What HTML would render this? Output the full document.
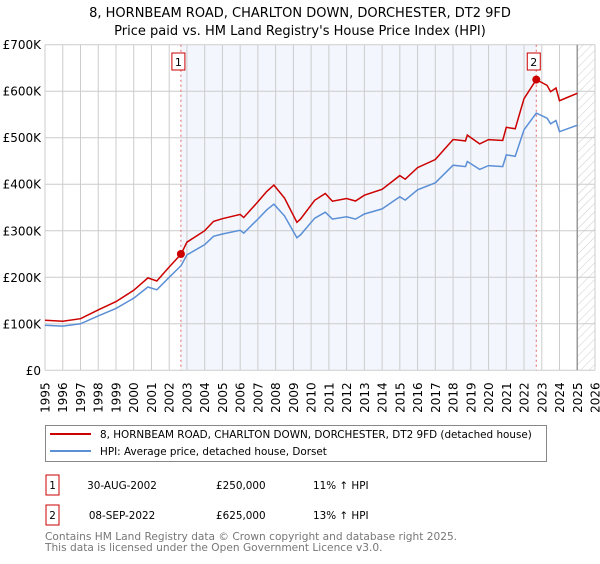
<!DOCTYPE html>
<html><head><meta charset="utf-8"><style>
body{margin:0;background:#fff;font-family:"DejaVu Sans","Liberation Sans",sans-serif;}
svg text{font-family:"DejaVu Sans","Liberation Sans",sans-serif;}
</style></head><body>
<svg width="600" height="560" viewBox="0 0 600 560" xmlns="http://www.w3.org/2000/svg">
<defs><pattern id="hatch" width="6" height="6" patternUnits="userSpaceOnUse" patternTransform="rotate(45)"><line x1="0" y1="0" x2="0" y2="6" stroke="#ccc" stroke-width="1"/></pattern></defs>
<text x="300" y="17" text-anchor="middle" font-size="13">8, HORNBEAM ROAD, CHARLTON DOWN, DORCHESTER, DT2 9FD</text>
<text x="300" y="35" text-anchor="middle" font-size="13">Price paid vs. HM Land Registry's House Price Index (HPI)</text>
<g id="plot"></g>
<g>
<rect x="45.5" y="425.5" width="501" height="36" fill="#fff" stroke="#888"/>
<line x1="50" y1="434" x2="91" y2="434" stroke="#cc0000" stroke-width="2"/>
<text x="100" y="438" font-size="10.4">8, HORNBEAM ROAD, CHARLTON DOWN, DORCHESTER, DT2 9FD (detached house)</text>
<line x1="50" y1="451" x2="91" y2="451" stroke="#5b8fd6" stroke-width="2"/>
<text x="100" y="455" font-size="10.4">HPI: Average price, detached house, Dorset</text>
</g>
<g font-size="10.4">
<rect x="46" y="475" width="13" height="20" fill="#fff" stroke="#cc0000"/><text x="52.5" y="489" text-anchor="middle">1</text>
<text x="122" y="489" text-anchor="middle">30-AUG-2002</text><text x="216" y="489">£250,000</text><text x="313" y="489">11% ↑ HPI</text>
<rect x="46" y="505" width="13" height="20" fill="#fff" stroke="#cc0000"/><text x="52.5" y="519" text-anchor="middle">2</text>
<text x="122" y="519" text-anchor="middle">08-SEP-2022</text><text x="216" y="519">£625,000</text><text x="313" y="519">13% ↑ HPI</text>
</g>
<text x="45" y="540" font-size="10.6" fill="#777">Contains HM Land Registry data © Crown copyright and database right 2025.</text>
<text x="45" y="551" font-size="10.6" fill="#777">This data is licensed under the Open Government Licence v3.0.</text>
</svg>
<script>
const hpiYears=[1995,1996,1997,1998,1999,2000,2000.8,2001.3,2002,2002.67,2003,2004,2004.5,2005,2006,2006.2,2007,2007.5,2007.9,2008.5,2009.2,2009.4,2010.2,2010.8,2011.2,2012,2012.5,2013,2014,2015,2015.3,2016,2017,2018,2018.7,2018.8,2019.5,2020,2020.8,2021,2021.5,2022,2022.69,2023.3,2023.5,2023.8,2024,2024.5,2025];
const hpiValues=[97000,95000,100000,117000,133000,155000,179000,173000,200000,225000,248000,270000,288000,293000,301000,295000,325000,345000,357000,332000,285000,291000,327000,340000,325000,330000,325000,336000,347000,373000,366000,388000,403000,441000,438000,449000,432000,440000,438000,463000,460000,517000,553000,542000,530000,537000,513000,520000,527000];
const saleYears=[2002.66,2022.69];
const salePrices=[250000,625000];
const saleRatios=[1.11,1.13];
const yTicks=[0,100000,200000,300000,400000,500000,600000,700000];
const yTickLabels=["£0","£100K","£200K","£300K","£400K","£500K","£600K","£700K"];
const xTicks=[1995,1996,1997,1998,1999,2000,2001,2002,2003,2004,2005,2006,2007,2008,2009,2010,2011,2012,2013,2014,2015,2016,2017,2018,2019,2020,2021,2022,2023,2024,2025,2026];
const X0=45,X1=595,Y0=370.3,Y1=44.7,xMin=1995,xMax=2026,yMax=700000;
const sx=v=>X0+(v-xMin)/(xMax-xMin)*(X1-X0);
const sy=v=>Y0-(v/yMax)*(Y0-Y1);
const NS="http://www.w3.org/2000/svg";
const g=document.getElementById('plot');
function mk(t,a){const e=document.createElementNS(NS,t);for(const k in a)e.setAttribute(k,a[k]);g.appendChild(e);return e;}
let e;
e=mk('rect',{x:X0,y:Y1,width:X1-X0,height:Y0-Y1,fill:'#fff'});


e=mk('rect',{x:sx(saleYears[0]),y:Y1,width:sx(saleYears[1])-sx(saleYears[0]),height:Y0-Y1,fill:'#f3f6fd'});


e=mk('rect',{x:sx(2025),y:Y1,width:X1-sx(2025),height:Y0-Y1,fill:'url(#hatch)'});


xTicks.forEach(t=>{
 e=mk('line',{x1:sx(t),x2:sx(t),y1:Y1,y2:Y0,stroke:'#ccc'});
 
 
 e=mk('text',{x:0,y:0,'font-size':12,'text-anchor':'end',transform:`translate(${sx(t)+4.5},${Y0+12}) rotate(-90)`});
 e.textContent=t;
 
 
});
yTicks.forEach((t,i)=>{
 e=mk('line',{x1:X0,x2:X1,y1:sy(t),y2:sy(t),stroke:'#ccc'});
 
 
 e=mk('text',{x:X0-4,y:sy(t)+4.5,'font-size':12,'text-anchor':'end'});
 e.textContent=yTickLabels[i];
 
 
});
e=mk('line',{x1:sx(2025),x2:sx(2025),y1:Y1,y2:Y0,stroke:'#999','stroke-width':1.5});


saleYears.forEach((s,i)=>{
 e=mk('line',{x1:sx(s),x2:sx(s),y1:Y1,y2:Y0,stroke:'#e06666','stroke-dasharray':'2,3'});
 
 
});
const hp=hpiYears.map((y,i)=>`${sx(y).toFixed(1)},${sy(hpiValues[i]).toFixed(1)}`).join(' ');
e=mk('polyline',{points:hp,fill:'none',stroke:'#5b8fd6','stroke-width':1.5});


const ratioAt=y=>{if(y<=saleYears[0])return saleRatios[0];if(y>=saleYears[1])return saleRatios[1];const f=(y-saleYears[0])/(saleYears[1]-saleYears[0]);return saleRatios[0]+f*(saleRatios[1]-saleRatios[0]);};
const rp=hpiYears.map((y,i)=>`${sx(y).toFixed(1)},${sy(hpiValues[i]*ratioAt(y)).toFixed(1)}`).join(' ');
e=mk('polyline',{points:rp,fill:'none',stroke:'#cc0000','stroke-width':1.5});


saleYears.forEach((s,i)=>{
 e=mk('circle',{cx:sx(s),cy:sy(salePrices[i]),r:4,fill:'#cc0000'});
 
 
 e=mk('rect',{x:sx(s)-9,y:53,width:13,height:17,fill:'#fff',stroke:'#cc0000'});
 
 
 e=mk('text',{x:sx(s)-2.5,y:66,'font-size':11,'text-anchor':'middle'});
 e.textContent=String(i+1);
 
 
});
</script>
</body></html>
